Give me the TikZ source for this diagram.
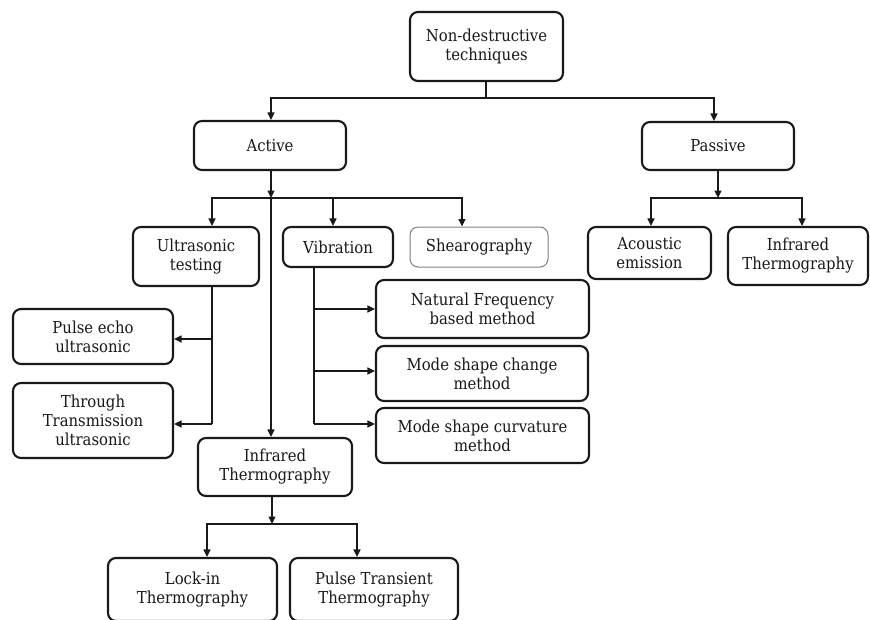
\documentclass[tikz,border=0pt]{standalone}
\usepackage{fontspec}
\setmainfont{DejaVu Serif}[FakeStretch=0.9]
\usetikzlibrary{arrows.meta}
\begin{document}
\begin{tikzpicture}[x=1pt,y=-1pt,
  box/.style={draw=black!90, line width=2.1pt, rounded corners=8pt, align=center,
    inner sep=0pt, font=\fontsize{16.5}{19}\selectfont, text=black!90},
  thinbox/.style={box, draw=black!50, line width=1pt},
  wh/.style 2 args={minimum width=#1pt, minimum height=#2pt},
  conn/.style={line width=1.5pt, draw=black!90},
  arr/.style={conn, -{Triangle[length=7.5pt,width=7pt]}}]
\useasboundingbox (0,0) rectangle (870,619);
\fill[white] (0,0) rectangle (870,619);

% nodes
\node[box, wh={153}{69}] (root) at (486.5,46.5) {Non-destructive\\techniques};
\node[box, wh={152}{49}] (active) at (270,145.5) {Active};
\node[box, wh={152}{48}] (passive) at (718,146) {Passive};
\node[box, wh={126}{59}] (ultra) at (196,256.5) {Ultrasonic\\testing};
\node[box, wh={110}{40}] (vib) at (338,247) {Vibration};
\node[thinbox, wh={138}{40}] (shear) at (479,247) {Shearography};
\node[box, wh={123}{52}] (ae) at (649.5,253) {Acoustic\\emission};
\node[box, wh={140}{58}] (irp) at (798,256) {Infrared\\Thermography};
\node[box, wh={160}{55}] (pe) at (93,336.5) {Pulse echo\\ultrasonic};
\node[box, wh={160}{75}] (tt) at (93,420.5) {Through\\Transmission\\ultrasonic};
\node[box, wh={213}{58}] (nf) at (482.5,309) {Natural Frequency\\based method};
\node[box, wh={212}{55}] (msc) at (482,373.5) {Mode shape change\\method};
\node[box, wh={213}{55}] (mscv) at (482.5,435.5) {Mode shape curvature\\method};
\node[box, wh={154}{58}] (irm) at (275,467) {Infrared\\Thermography};
\node[box, wh={169}{63}] (li) at (192.5,589.5) {Lock-in\\Thermography};
\node[box, wh={168}{63}] (pt) at (374,589.5) {Pulse Transient\\Thermography};

% junction coordinates
\coordinate (t0) at (486,98);
\coordinate (tL) at (271,98);
\coordinate (tR) at (714,98);
\coordinate (a0) at (271,198);
\coordinate (p0) at (718,198);
\coordinate (uA) at (212,339);
\coordinate (uB) at (212,424);
\coordinate (vA) at (314,309);
\coordinate (vB) at (314,371);
\coordinate (vC) at (314,424);
\coordinate (i0) at (272,524);

% root
\draw[conn] (root.south -| t0) -- (t0);
\draw[arr] (t0) -| (tL |- active.north);
\draw[arr] (t0) -| (tR |- passive.north);

% active
\draw[arr] (active.south -| a0) -- (a0);
\draw[arr] (a0) -| (ultra.north -| uA);
\draw[arr] (a0) -| (vib.north -| 333,0);
\draw[arr] (a0) -| (shear.north -| 462,0);
\draw[arr] (a0) -- (a0 |- irm.north);

% passive
\draw[arr] (passive.south) -- (p0);
\draw[arr] (p0) -| (ae.north -| 651,0);
\draw[arr] (p0) -| (irp.north -| 802,0);

% ultrasonic
\draw[conn] (ultra.south -| uA) -- (uB);
\draw[arr] (uA) -- (pe.east |- uA);
\draw[arr] (uB) -- (tt.east |- uB);

% vibration
\draw[conn] (vib.south -| vA) -- (vC);
\draw[arr] (vA) -- (nf.west |- vA);
\draw[arr] (vB) -- (msc.west |- vB);
\draw[arr] (vC) -- (mscv.west |- vC);

% infrared thermography (active)
\draw[arr] (irm.south -| i0) -- (i0);
\draw[arr] (i0) -| (li.north -| 207,0);
\draw[arr] (i0) -| (pt.north -| 357,0);
\end{tikzpicture}
\end{document}
